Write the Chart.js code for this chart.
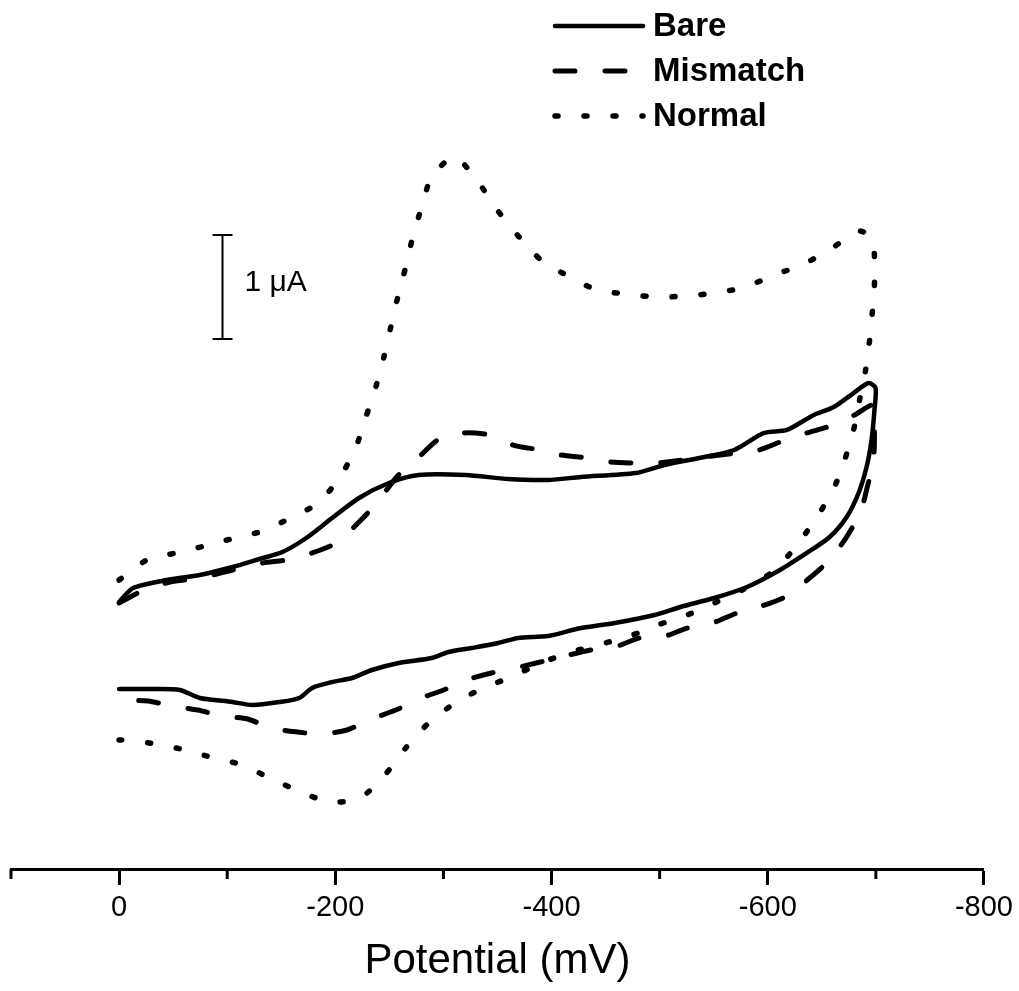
<!DOCTYPE html>
<html lang="en">
<head>
<meta charset="UTF-8">
<title>Cyclic voltammograms</title>
<style>
  html, body { margin: 0; padding: 0; background: #fff; }
  #wrap { width: 1019px; height: 991px; position: relative; }
</style>
</head>
<body>
<div id="wrap"><canvas id="cv"></canvas></div>

<script src="https://cdn.jsdelivr.net/npm/chart.js"></script>
<script>
    // potential in mV, current in uA (zero is arbitrary, only the 1 uA bar matters)
    const bareMv = [0, -12.9, -44.2, -74.6, -104.9, -129.8, -151.0, -173.1, -197.0, -221.9, -249.5, -277.1,
        -320.4, -360.0, -396.8, -427.2, -477.8, -504.5, -541.3, -568.9, -596.6, -617.7, -642.6, -661.0,
        -679.4, -693.2, -699.7,
        -698.7, -696.0, -691.4, -684.0, -673.0, -657.3, -636.1, -611.3, -580.9, -550.5, -519.2, -495.3,
        -458.5, -427.2, -396.8, -369.2, -350.7, -325.9, -304.7, -289.1, -258.7, -233.8, -215.4, -197.0,
        -178.6, -166.6, -148.2, -123.4, -104.9, -74.6, -56.2, -31.3, 0];
    const bareUa = [0.558, 0.692, 0.769, 0.817, 0.894, 0.971, 1.038, 1.173, 1.365, 1.558, 1.702, 1.779,
        1.779, 1.740, 1.731, 1.760, 1.798, 1.875, 1.952, 2.019, 2.183, 2.212, 2.356, 2.433,
        2.567, 2.663, 2.615,
        2.404, 2.115, 1.856, 1.606, 1.375, 1.183, 1.029, 0.865, 0.702, 0.596, 0.510, 0.433,
        0.356, 0.308, 0.231, 0.212, 0.163, 0.115, 0.077, 0.019, -0.029, -0.096, -0.173, -0.212,
        -0.269, -0.365, -0.404, -0.433, -0.404, -0.365, -0.288, -0.279, -0.279];

    const mismatchMv = [0, -19.3, -47.0, -74.6, -104.9, -132.6, -154.7, -178.6, -200.7, -221.9, -238.4,
        -256.8, -274.3, -297.4, -318.5, -343.4, -364.6, -389.4, -408.7, -433.6, -454.8, -477.8, -498.1,
        -534.9, -569.9, -592.0, -615.9, -636.1, -661.0, -680.3, -697.8,
        -698.7, -697.8, -691.4, -685.8, -678.5, -671.1, -657.3, -634.3, -615.9, -592.0, -571.7, -548.7,
        -525.7, -502.6, -481.5, -458.5, -436.4, -408.7, -366.4, -344.3, -321.3, -300.1, -277.1, -255.9,
        -231.1, -210.8, -186.9, -164.8, -140.9, -118.8, -94.8, -72.7, -48.8, -26.7, 0];
    const mismatchUa = [0.548, 0.654, 0.750, 0.788, 0.865, 0.933, 0.962, 1.029, 1.125, 1.327, 1.510,
        1.760, 1.923, 2.135, 2.183, 2.163, 2.067, 2.019, 1.971, 1.942, 1.904, 1.894, 1.894,
        1.942, 1.990, 2.019, 2.115, 2.183, 2.260, 2.356, 2.452,
        2.212, 1.923, 1.635, 1.413, 1.279, 1.154, 0.962, 0.750, 0.606, 0.510, 0.452, 0.356,
        0.308, 0.221, 0.212, 0.125, 0.096, 0.029, -0.077, -0.125, -0.192, -0.288, -0.375, -0.481,
        -0.577, -0.673, -0.712, -0.692, -0.654, -0.567, -0.538, -0.481, -0.442, -0.394, -0.385];

    const normalMv = [0, -25.8, -52.5, -79.2, -106.8, -132.6, -158.4, -184.1, -204.4, -219.1, -228.3,
        -237.5, -244.9, -251.3, -257.8, -265.1, -271.6, -279.9, -289.1, -310.2, -331.4, -349.8, -370.1,
        -391.3, -417.0, -441.9, -469.5, -497.1, -523.8, -551.4, -579.1, -605.8, -631.5, -658.2, -684.9,
        -696.9, -698.8, -696.9, -694.1, -690.5, -684.9, -679.4, -671.1, -660.1, -643.5, -625.1, -603.0,
        -576.3, -550.5, -525.7, -498.1, -472.3, -442.8, -418.0, -390.4, -362.7, -337.0, -312.1, -286.3,
        -265.1, -245.8, -222.8, -194.2, -166.6, -140.9, -114.2, -87.5, -60.8, -34.1, -6.4, 0];
    const normalUa = [0.769, 0.962, 1.029, 1.096, 1.173, 1.240, 1.365, 1.510, 1.760, 2.048, 2.337,
        2.625, 2.913, 3.202, 3.490, 3.779, 4.067, 4.356, 4.644, 4.837, 4.606, 4.327, 4.067,
        3.837, 3.683, 3.558, 3.519, 3.490, 3.500, 3.529, 3.587, 3.702, 3.798, 3.952, 4.125,
        4.038, 3.654, 3.365, 3.067, 2.788, 2.500, 2.212, 1.923, 1.625, 1.346, 1.077, 0.837,
        0.673, 0.548, 0.433, 0.337, 0.231, 0.144, 0.077, -0.029, -0.163, -0.269, -0.404, -0.606,
        -0.846, -1.106, -1.327, -1.365, -1.260, -1.144, -1.010, -0.942, -0.865, -0.808, -0.769, -0.769];

    const seriesNames = ['Bare', 'Mismatch', 'Normal'];
    const majorTicks = [0, -200, -400, -600, -800];
    const minorTicks = [100, -100, -300, -500, -700];
    const axisTitle = 'Potential (mV)';
    const scaleBarLabel = '1 \u03BCA';

    const FONT = '"Liberation Sans", Arial, Helvetica, sans-serif';

    function pairs(xs, ys) {
        return xs.map((v, i) => ({x: v, y: ys[i]}));
    }

    // minor ticks, 1 uA scale bar and the legend in the top right
    const extras = {
        id: 'extras',
        afterDraw(chart) {
            const {ctx, chartArea} = chart;
            const x = chart.scales.x, y = chart.scales.y;
            ctx.save();
            ctx.strokeStyle = '#000';
            ctx.fillStyle = '#000';

            ctx.lineWidth = 3;
            minorTicks.forEach(v => {
                const px = x.getPixelForValue(v);
                ctx.beginPath();
                ctx.moveTo(px, chartArea.bottom);
                ctx.lineTo(px, chartArea.bottom + 10);
                ctx.stroke();
            });

            const bx = Math.round(x.getPixelForValue(-94.8)) + 0.5;
            const top = y.getPixelForValue(4.087), bot = y.getPixelForValue(3.087);
            ctx.lineWidth = 2;
            ctx.beginPath();
            ctx.moveTo(bx, top); ctx.lineTo(bx, bot);
            ctx.moveTo(bx - 10, top); ctx.lineTo(bx + 10, top);
            ctx.moveTo(bx - 10, bot); ctx.lineTo(bx + 10, bot);
            ctx.stroke();
            ctx.font = '30px ' + FONT;
            ctx.textBaseline = 'middle';
            ctx.textAlign = 'left';
            ctx.fillText(scaleBarLabel, bx + 22, (top + bot) / 2 - 4);

            const rows = [26, 71, 116];
            chart.data.datasets.forEach((ds, i) => {
                ctx.save();
                ctx.lineWidth = ds.borderWidth;
                ctx.lineCap = ds.borderCapStyle || 'butt';
                ctx.setLineDash(ds.borderDash || []);
                ctx.beginPath();
                ctx.moveTo(555, rows[i]);
                ctx.lineTo(643, rows[i]);
                ctx.stroke();
                ctx.restore();
                ctx.font = 'bold 33px ' + FONT;
                ctx.textBaseline = 'middle';
                ctx.fillText(ds.label, 653, rows[i] + 1);
            });
            ctx.restore();
        }
    };

    function init() {
        let ctx = document.getElementById('cv').getContext('2d');
        new Chart(ctx, {
            type: 'line',
            data: {
                datasets: [
                    {
                        label: seriesNames[0],
                        data: pairs(bareMv, bareUa),
                        borderColor: '#000',
                        borderWidth: 4.5,
                        borderCapStyle: 'round',
                        borderJoinStyle: 'round',
                    },
                    {
                        label: seriesNames[1],
                        data: pairs(mismatchMv, mismatchUa),
                        borderColor: '#000',
                        borderWidth: 5,
                        borderDash: [20, 30],
                        borderCapStyle: 'round',
                        borderJoinStyle: 'round',
                    },
                    {
                        label: seriesNames[2],
                        data: pairs(normalMv, normalUa),
                        borderColor: '#000',
                        borderWidth: 5.5,
                        borderDash: [3, 26],
                        borderCapStyle: 'round',
                        borderJoinStyle: 'round',
                    },
                ],
            },
            options: {
                responsive: true,
                maintainAspectRatio: false,
                animation: false,
                layout: {padding: {left: 11, right: 31, top: 0, bottom: 0}},
                elements: {
                    point: {radius: 0, hoverRadius: 0},
                    line: {tension: 0.25, fill: false},
                },
                plugins: {
                    legend: {display: false},
                    tooltip: {enabled: false},
                },
                scales: {
                    x: {
                        type: 'linear',
                        reverse: true,
                        min: -800,
                        max: 100,
                        afterFit(scale) { scale.height = 122; },
                        border: {display: true, color: '#000', width: 3},
                        grid: {
                            drawOnChartArea: false,
                            tickLength: 16,
                            tickWidth: 3,
                            tickColor: c => majorTicks.includes(c.tick.value) ? '#000' : 'rgba(0,0,0,0)',
                        },
                        ticks: {
                            stepSize: 100,
                            autoSkip: false,
                            maxRotation: 0,
                            padding: 6,
                            color: '#000',
                            font: {family: FONT, size: 29},
                            callback: v => majorTicks.includes(v) ? String(v) : '',
                        },
                        title: {
                            display: true,
                            text: axisTitle,
                            color: '#000',
                            font: {family: FONT, size: 42},
                            padding: {top: 0, bottom: 4},
                        },
                    },
                    y: {
                        type: 'linear',
                        display: false,
                        min: -2.0096,
                        max: 6.3462,
                    },
                },
            },
            plugins: [extras],
        });
    }

    document.addEventListener('DOMContentLoaded', init);
</script>
</body>
</html>
